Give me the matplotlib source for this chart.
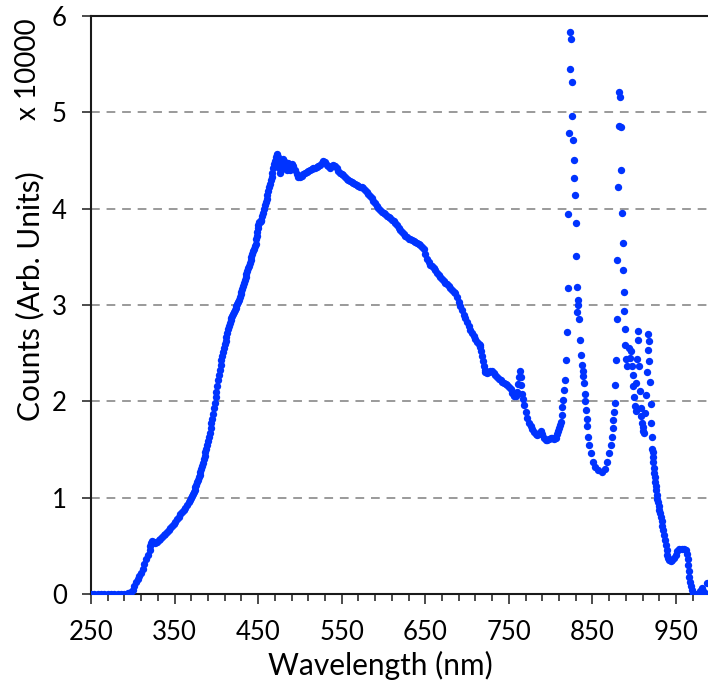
import matplotlib
matplotlib.use("Agg")
import matplotlib.pyplot as plt
from matplotlib.ticker import FixedLocator, NullFormatter
import numpy as np

plt.rcParams['font.family'] = ['Lato', 'DejaVu Sans']

# Broad continuum, 250-818 nm (counts in units of 10^4)
continuum_nm = [
    250, 254, 258, 262, 266, 270, 274, 278, 282, 286, 290, 294, 296, 298,
    300, 302, 304, 306, 308, 310, 312, 314, 316, 318, 320, 321, 322, 323,
    325, 327, 329, 331, 333, 335, 337, 339, 341, 343, 345, 347, 349, 351,
    353, 355, 357, 359, 361, 363, 365, 367, 369,
    370, 371, 372, 373, 374, 375, 376, 377, 378, 379, 380, 381, 382, 383,
    384, 385, 386, 387, 388, 389, 390, 391, 392, 393, 394, 395, 396, 397,
    398, 399, 400, 401, 402, 403, 404, 405, 406, 407, 408, 409, 410, 411,
    412, 413, 414, 415, 416, 417, 418, 419, 420, 421, 422, 423, 424, 425,
    426, 427, 428, 429, 430, 431, 432, 433, 434, 435, 436, 437, 438, 439,
    440, 441, 442, 443, 444, 445, 446, 447, 448, 448.5, 449, 449.5, 450,
    451, 452, 453, 454, 455, 456, 457, 458, 459, 460, 461, 462, 463, 464,
    465, 466, 467, 468, 469, 470, 471, 472, 473, 473.5, 474, 474.5, 475,
    476, 477, 478, 479, 480, 481, 482, 483, 484, 485, 486, 487, 488, 489,
    490, 491, 492, 494, 496, 498, 500, 502, 504, 506, 508, 510, 512, 514,
    516, 518, 520, 522, 524, 526, 528, 530, 532, 534, 536, 538, 540, 542,
    544, 546, 548, 550, 552, 554, 556, 558, 560, 562, 564, 566, 568, 570,
    572, 574, 576, 578, 580, 582, 584, 586, 588, 590, 592, 594, 596, 598,
    600, 602, 604, 606, 608, 610, 612, 614, 616, 618, 620, 622, 624, 626,
    628, 630, 632, 634, 636, 638, 640, 642, 644, 646, 648, 650, 652, 654,
    656, 658, 660, 662, 664, 666, 668, 670, 672, 674, 676, 678, 680, 682,
    684, 686, 688, 690, 692, 694, 696, 698, 700, 702, 704, 706, 708, 710,
    712, 714, 715, 716, 717, 718, 719, 720, 721, 722, 724, 726, 728, 730,
    732, 734, 736, 738, 740, 742, 744, 746, 748, 750, 752, 754, 756, 758,
    760, 761, 762, 763, 764, 765, 766, 767, 768, 770, 772, 774, 776, 778,
    780, 782, 784, 786, 788, 790, 792, 794, 796, 798, 800, 802, 804, 806,
    808, 809, 810, 811, 812, 813, 814, 815, 816.4, 817.2,
]
continuum_counts = [
    0.00, 0.00, 0.00, 0.00, 0.00, 0.00, 0.00, 0.00, 0.00, 0.00, 0.00, 0.01, 0.01, 0.02,
    0.04, 0.08, 0.12, 0.16, 0.19, 0.22, 0.26, 0.31, 0.36, 0.41, 0.46, 0.50, 0.53, 0.55,
    0.54, 0.53, 0.54, 0.56, 0.57, 0.59, 0.61, 0.62, 0.64, 0.66, 0.68, 0.71, 0.73, 0.75,
    0.78, 0.80, 0.83, 0.85, 0.87, 0.89, 0.92, 0.95, 0.98,
    1.00, 1.02, 1.04, 1.06, 1.08, 1.11, 1.13, 1.16, 1.18, 1.21, 1.24, 1.27, 1.30, 1.33,
    1.36, 1.40, 1.43, 1.47, 1.51, 1.55, 1.59, 1.63, 1.67, 1.72, 1.77, 1.82, 1.87, 1.93,
    1.98, 2.04, 2.10, 2.16, 2.22, 2.27, 2.33, 2.38, 2.43, 2.47, 2.51, 2.55, 2.59, 2.63,
    2.67, 2.71, 2.75, 2.78, 2.81, 2.84, 2.87, 2.89, 2.91, 2.93, 2.95, 2.97, 2.99, 3.01,
    3.03, 3.05, 3.08, 3.11, 3.14, 3.17, 3.20, 3.23, 3.26, 3.29, 3.32, 3.35, 3.38, 3.41,
    3.44, 3.47, 3.50, 3.53, 3.56, 3.58, 3.61, 3.63, 3.68, 3.72, 3.76, 3.80, 3.83,
    3.86, 3.86, 3.87, 3.88, 3.92, 3.96, 4.00, 4.04, 4.07, 4.10, 4.14, 4.18, 4.22, 4.26,
    4.30, 4.33, 4.37, 4.42, 4.46, 4.50, 4.54, 4.56, 4.57, 4.54, 4.50, 4.46, 4.42,
    4.37, 4.40, 4.45, 4.50, 4.52, 4.50, 4.45, 4.42, 4.40, 4.45, 4.47, 4.43, 4.40, 4.42,
    4.45, 4.46, 4.44, 4.40, 4.36, 4.33, 4.33, 4.34, 4.36, 4.37, 4.38, 4.39, 4.40, 4.41,
    4.42, 4.42, 4.43, 4.44, 4.45, 4.47, 4.49, 4.48, 4.45, 4.44, 4.42, 4.44, 4.45, 4.44,
    4.42, 4.39, 4.37, 4.36, 4.35, 4.33, 4.31, 4.30, 4.29, 4.28, 4.27, 4.26, 4.25, 4.24,
    4.23, 4.22, 4.21, 4.19, 4.17, 4.15, 4.13, 4.11, 4.08, 4.06, 4.03, 4.01, 3.99, 3.97,
    3.95, 3.94, 3.92, 3.91, 3.90, 3.88, 3.87, 3.85, 3.83, 3.80, 3.78, 3.76, 3.74, 3.72,
    3.71, 3.69, 3.68, 3.67, 3.66, 3.65, 3.64, 3.63, 3.62, 3.60, 3.58, 3.53, 3.48, 3.45,
    3.42, 3.40, 3.38, 3.36, 3.33, 3.31, 3.29, 3.27, 3.25, 3.23, 3.22, 3.20, 3.18, 3.16,
    3.14, 3.12, 3.08, 3.03, 2.99, 2.95, 2.90, 2.86, 2.82, 2.78, 2.74, 2.71, 2.68, 2.65,
    2.62, 2.60, 2.58, 2.56, 2.52, 2.47, 2.42, 2.37, 2.33, 2.30, 2.29, 2.30, 2.32, 2.31,
    2.29, 2.27, 2.25, 2.23, 2.22, 2.20, 2.19, 2.18, 2.17, 2.15, 2.13, 2.09, 2.06, 2.06,
    2.10, 2.18, 2.25, 2.31, 2.25, 2.17, 2.08, 2.02, 1.96, 1.89, 1.83, 1.78, 1.74, 1.71,
    1.68, 1.66, 1.65, 1.66, 1.69, 1.66, 1.62, 1.60, 1.60, 1.61, 1.62, 1.62, 1.61, 1.62,
    1.66, 1.69, 1.72, 1.75, 1.79, 1.86, 1.94, 2.01, 2.12, 2.22,
]

# Emission lines and the near-infrared tail, 818-988 nm
nir_nm = [
    818.4, 819.1, 820.3, 821.1, 821.9, 822.7, 823.7, 824.3, 825.1, 825.9,
    826.7, 827.5, 828.3, 829.1, 830.0, 830.3, 831.2, 832.6, 832.2, 831.9,
    833.5, 835.5, 836.7, 837.5, 838.4, 839.1, 839.9, 840.7, 841.4, 842.2,
    843.0, 843.9, 845.1, 846.3, 847.9, 850.3, 853.1, 857.0, 861.1, 865.0,
    867.8, 870.2, 871.8, 873.0, 874.2, 874.9, 875.8, 876.6, 877.0, 878.2,
    879.0, 879.5, 880.9, 881.7, 882.1, 882.9, 883.8, 884.1, 885.0, 886.2,
    886.6, 887.4, 888.1, 888.6, 889.0, 890.2, 890.9, 894.1, 895.0, 896.2,
    897.0, 898.2, 898.9, 899.8, 901.0, 901.6, 902.1, 903.0, 904.1, 904.9,
    906.0, 906.9, 907.7, 908.3, 908.9, 910.2, 910.9, 912.1, 912.9, 914.1,
    915.0, 916.1, 916.9, 917.6, 918.1, 918.9, 919.8, 920.5, 920.9, 921.6,
    922.0, 922.4, 922.8, 923.2, 923.7, 924.3, 924.9, 925.5, 926.1, 926.8,
    927.6, 928.4, 929.3, 930.1, 930.9, 931.9, 932.9, 933.8, 934.8, 935.8,
    936.8, 937.8, 938.9, 939.8, 940.8, 942.0, 943.7, 945.5, 947.6, 949.5,
    951.6, 954.0, 956.8, 959.5, 962.0, 963.0, 963.8, 964.5, 965.2, 965.9,
    966.7, 967.6, 969.0, 970.7, 973.0, 976.7, 978.5, 980.8, 982.5, 984.7,
    987.5,
]
nir_counts = [
    2.43, 2.72, 3.18, 3.94, 4.79, 5.45, 5.83, 5.76, 5.31, 4.96,
    4.71, 4.51, 4.32, 4.14, 3.85, 3.51, 3.19, 3.05, 3.00, 2.93,
    2.85, 2.64, 2.48, 2.38, 2.31, 2.26, 2.19, 2.08, 2.00, 1.91,
    1.82, 1.74, 1.63, 1.55, 1.46, 1.37, 1.32, 1.29, 1.27, 1.30,
    1.37, 1.46, 1.55, 1.63, 1.72, 1.81, 1.89, 1.98, 2.17, 2.43,
    2.85, 3.47, 4.22, 4.86, 5.21, 5.16, 4.85, 4.40, 3.96, 3.64,
    3.36, 3.14, 2.94, 2.75, 2.58, 2.44, 2.37, 2.55, 2.45, 2.52,
    2.37, 2.27, 2.16, 2.04, 1.95, 1.90, 2.19, 2.44, 2.64, 2.73,
    2.37, 2.11, 1.93, 1.85, 1.77, 1.69, 1.73, 1.67, 1.88, 2.07,
    2.30, 2.53, 2.70, 2.63, 2.42, 2.20, 1.97, 1.78, 1.63, 1.51,
    1.47, 1.42, 1.37, 1.31, 1.26, 1.21, 1.16, 1.12, 1.08, 1.03,
    0.99, 0.95, 0.91, 0.87, 0.84, 0.80, 0.76, 0.71, 0.66, 0.61,
    0.56, 0.51, 0.46, 0.41, 0.37, 0.35, 0.34, 0.35, 0.37, 0.41,
    0.45, 0.47, 0.47, 0.47, 0.46, 0.42, 0.36, 0.30, 0.24, 0.18,
    0.12, 0.08, 0.04, 0.01, 0.00, 0.00, 0.03, 0.06, 0.03, 0.01,
    0.11,
]

x_major = [250, 350, 450, 550, 650, 750, 850, 950]
y_major = [0, 1, 2, 3, 4, 5, 6]

BLUE = '#0033ff'
INK = '#1a1a1a'
TICK_FS = 18.5
TITLE_FS = 21.5

fig = plt.figure(figsize=(7.08, 6.84), dpi=100)
# plot area: 250-1000 nm spans 627 px, so the right part runs past the canvas edge
ax = fig.add_axes([91 / 708, 90 / 684, 626.8 / 708, 578 / 684])

wl = np.array(continuum_nm + nir_nm)
cts = np.array(continuum_counts + nir_counts)
ax.plot(wl, cts, linestyle='none', marker='o', ms=5.3, mew=0,
        color=BLUE, zorder=3)

ax.set_xlim(250, 1000)
ax.set_ylim(0, 6)

ax.xaxis.set_major_locator(FixedLocator(x_major))
ax.xaxis.set_minor_locator(FixedLocator(list(range(250, 1001, 20))))
ax.xaxis.set_minor_formatter(NullFormatter())
ax.yaxis.set_major_locator(FixedLocator(y_major))

for y in y_major[1:-1]:
    ax.axhline(y, color='#9a9a9a', lw=1.4, ls=(0, (4.5, 3.5)), zorder=1)

for side in ('left', 'bottom', 'top'):
    ax.spines[side].set_color(INK)
    ax.spines[side].set_linewidth(1.5)
ax.spines['right'].set_visible(False)

ax.tick_params(axis='x', which='major', direction='out', length=7.5,
               width=1.1, color=INK, labelsize=TICK_FS, pad=11)
ax.tick_params(axis='x', which='minor', direction='out', length=5,
               width=1.1, color=INK)
ax.tick_params(axis='y', which='major', direction='out', length=6.5,
               width=1.1, color=INK, labelsize=TICK_FS, pad=11)

fig.text(380 / 708, 1 - 665 / 684, 'Wavelength (nm)', ha='center',
         va='center', fontsize=TITLE_FS, color='black')
fig.text(30 / 708, 1 - 296 / 684, 'Counts (Arb. Units)', ha='center',
         va='center', rotation=90, fontsize=TITLE_FS, color='black')
fig.text(28 / 708, 1 - 69 / 684, 'x 10000', ha='center',
         va='center', rotation=90, fontsize=20, color='black')

fig.savefig('out.png', dpi=100)
